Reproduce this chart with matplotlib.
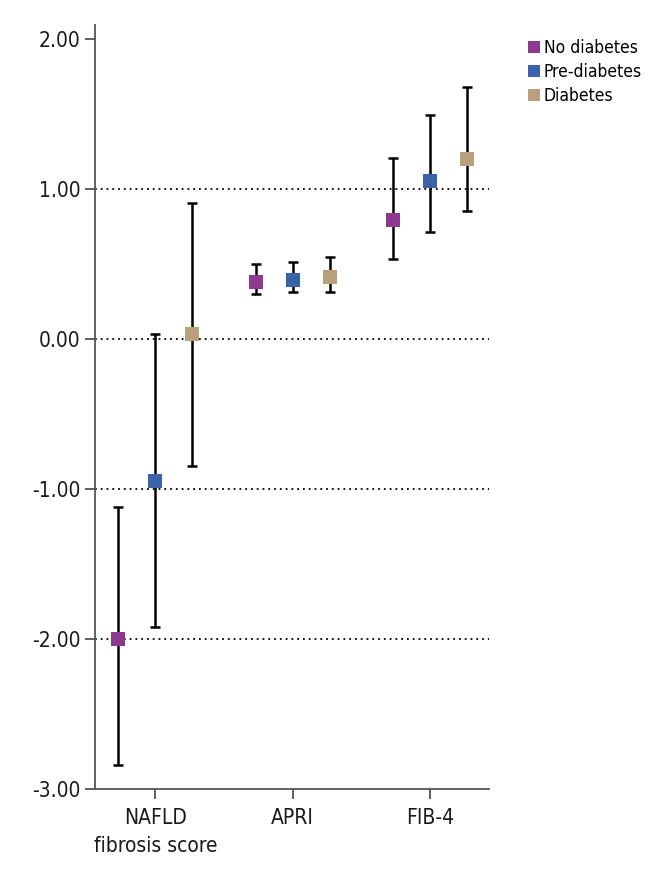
import matplotlib.pyplot as plt
from matplotlib.lines import Line2D

plt.rcParams['font.family'] = ['DejaVu Sans']
plt.rcParams['font.stretch'] = 'condensed'

scores = ['NAFLD\nfibrosis score', 'APRI', 'FIB-4']
groups = ['No diabetes', 'Pre-diabetes', 'Diabetes']
colors = ['#8c3a8e', '#3a63a9', '#b9a07c']

# mean values per group (rows) for each score (columns)
means = [[-2.00, 0.38, 0.79],
         [-0.945, 0.39, 1.05],
         [0.03, 0.41, 1.20]]
lower = [[-2.84, 0.30, 0.53],
         [-1.92, 0.31, 0.71],
         [-0.85, 0.31, 0.85]]
upper = [[-1.12, 0.50, 1.205],
         [0.03, 0.51, 1.49],
         [0.905, 0.545, 1.68]]

fig = plt.figure(figsize=(6.68, 8.76), dpi=100)
ax = fig.add_axes([0.142, 0.0993, 0.59, 0.872])

offsets = [-0.27, 0.0, 0.27]
for g in range(3):
    xs = [i + offsets[g] for i in range(3)]
    yerr = [[means[g][i] - lower[g][i] for i in range(3)],
            [upper[g][i] - means[g][i] for i in range(3)]]
    ax.errorbar(xs, means[g], yerr=yerr, fmt='none', ecolor='black',
                elinewidth=1.8, capsize=3.5, capthick=1.8, zorder=2)
    ax.plot(xs, means[g], 's', color=colors[g], markersize=9.5,
            markeredgewidth=0, zorder=3)

for y in [1, 0, -1, -2]:
    ax.axhline(y, color='black', linestyle=(0, (1, 2.2)), linewidth=1.3, zorder=1)

ax.set_xlim(-0.44, 2.43)
ax.set_ylim(-3.0, 2.09)
ax.set_yticks([2, 1, 0, -1, -2, -3])
ax.set_yticklabels(['2.00', '1.00', '0.00', '-1.00', '-2.00', '-3.00'])
ax.set_xticks([0, 1, 2])
ax.set_xticklabels(scores, linespacing=1.5)
ax.tick_params(axis='both', direction='out', length=7, width=1.2,
               color='#444444', labelsize=15, labelcolor='#1a1a1a')
ax.tick_params(axis='x', pad=7)
for s in ['top', 'right']:
    ax.spines[s].set_visible(False)
for s in ['left', 'bottom']:
    ax.spines[s].set_color('#555555')
    ax.spines[s].set_linewidth(1.3)

handles = [Line2D([], [], marker='s', linestyle='none', color=c,
                  markersize=9, markeredgewidth=0) for c in colors]
fig.legend(handles, groups, loc='upper left', bbox_to_anchor=(0.774, 0.965),
           frameon=False, fontsize=12.5, handletextpad=0.05, labelspacing=0.35,
           handlelength=1.0, borderpad=0)

fig.savefig('out.png', dpi=100)
